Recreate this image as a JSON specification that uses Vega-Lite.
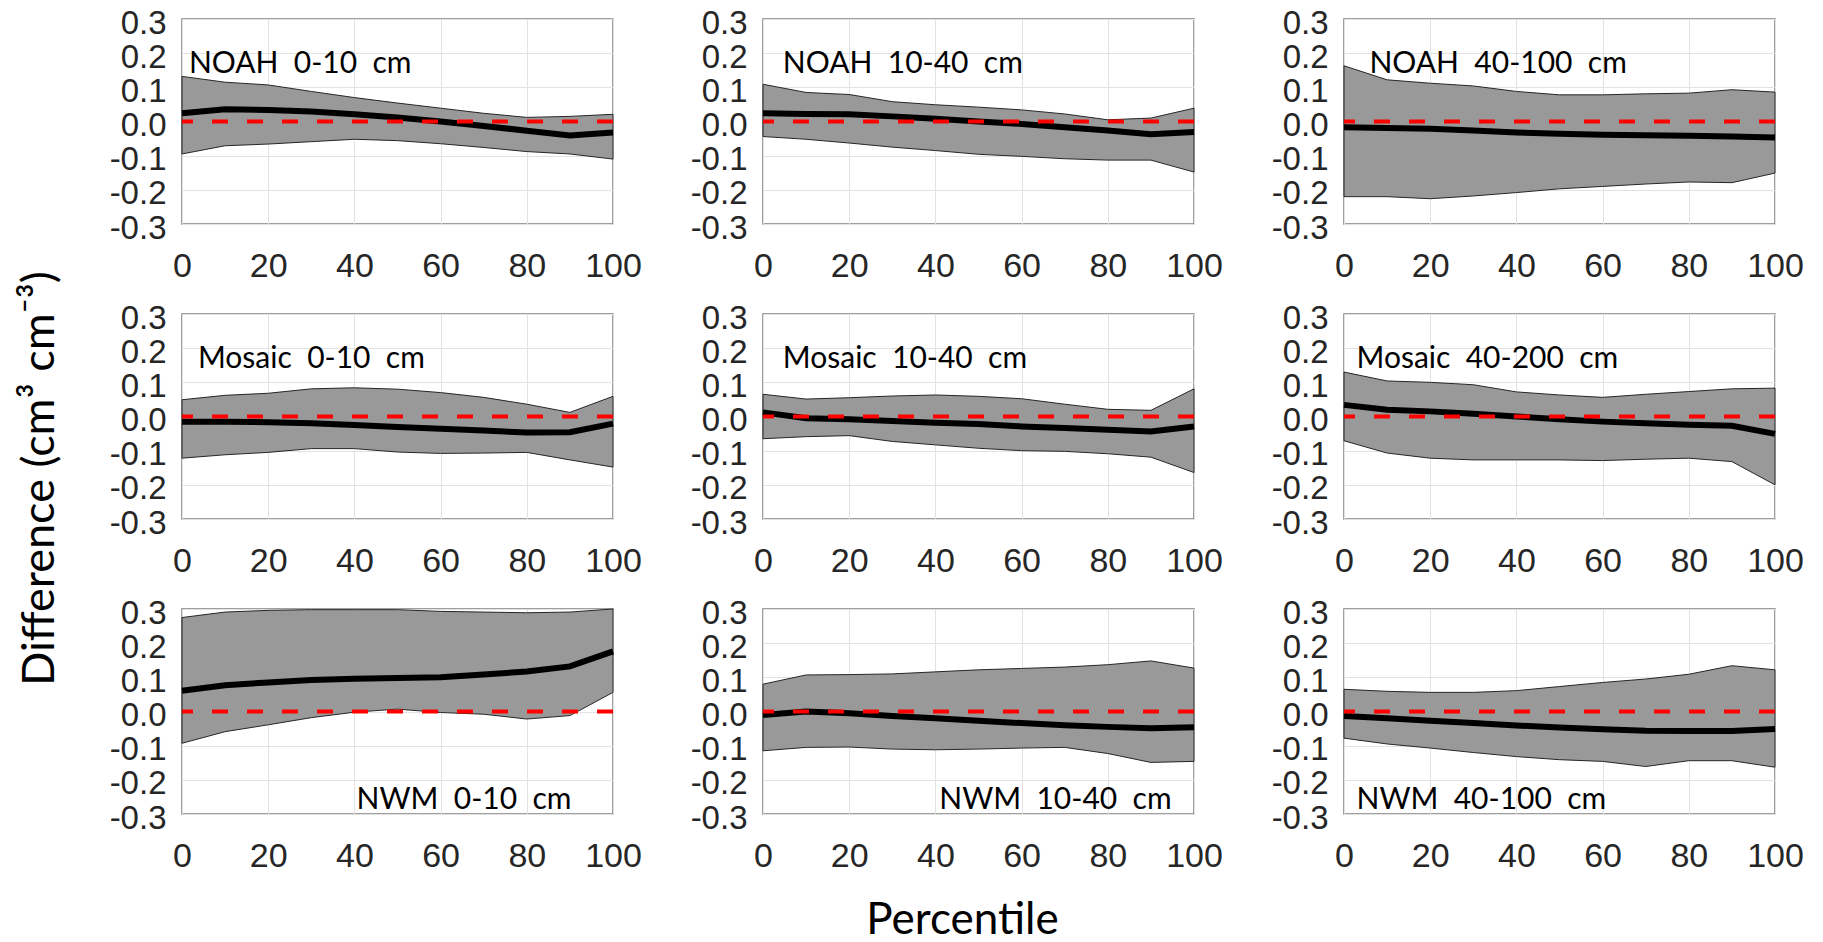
{
  "$schema": "https://vega.github.io/schema/vega-lite/v6.json",
  "autosize": {"type": "none"},
  "padding": {"left": 182, "top": 19, "right": 1641, "bottom": 923},
  "background": "#ffffff",
  "datasets": {
    "bands": [
      {"panel":"N1","p":0,"hi":0.132,"mean":0.024,"lo":-0.095},
      {"panel":"N1","p":10,"hi":0.115,"mean":0.036,"lo":-0.071},
      {"panel":"N1","p":20,"hi":0.107,"mean":0.034,"lo":-0.066},
      {"panel":"N1","p":30,"hi":0.088,"mean":0.029,"lo":-0.059},
      {"panel":"N1","p":40,"hi":0.070,"mean":0.021,"lo":-0.052},
      {"panel":"N1","p":50,"hi":0.054,"mean":0.012,"lo":-0.056},
      {"panel":"N1","p":60,"hi":0.039,"mean":0.000,"lo":-0.065},
      {"panel":"N1","p":70,"hi":0.024,"mean":-0.013,"lo":-0.076},
      {"panel":"N1","p":80,"hi":0.012,"mean":-0.027,"lo":-0.088},
      {"panel":"N1","p":90,"hi":0.015,"mean":-0.041,"lo":-0.095},
      {"panel":"N1","p":100,"hi":0.021,"mean":-0.032,"lo":-0.110},
      {"panel":"N2","p":0,"hi":0.109,"mean":0.024,"lo":-0.044},
      {"panel":"N2","p":10,"hi":0.085,"mean":0.022,"lo":-0.052},
      {"panel":"N2","p":20,"hi":0.079,"mean":0.021,"lo":-0.063},
      {"panel":"N2","p":30,"hi":0.058,"mean":0.015,"lo":-0.075},
      {"panel":"N2","p":40,"hi":0.049,"mean":0.008,"lo":-0.085},
      {"panel":"N2","p":50,"hi":0.042,"mean":0.000,"lo":-0.096},
      {"panel":"N2","p":60,"hi":0.034,"mean":-0.007,"lo":-0.102},
      {"panel":"N2","p":70,"hi":0.022,"mean":-0.017,"lo":-0.109},
      {"panel":"N2","p":80,"hi":0.005,"mean":-0.026,"lo":-0.113},
      {"panel":"N2","p":90,"hi":0.010,"mean":-0.037,"lo":-0.113},
      {"panel":"N2","p":100,"hi":0.039,"mean":-0.031,"lo":-0.148},
      {"panel":"N3","p":0,"hi":0.163,"mean":-0.017,"lo":-0.220},
      {"panel":"N3","p":10,"hi":0.122,"mean":-0.019,"lo":-0.220},
      {"panel":"N3","p":20,"hi":0.112,"mean":-0.021,"lo":-0.226},
      {"panel":"N3","p":30,"hi":0.104,"mean":-0.026,"lo":-0.218},
      {"panel":"N3","p":40,"hi":0.088,"mean":-0.032,"lo":-0.208},
      {"panel":"N3","p":50,"hi":0.078,"mean":-0.036,"lo":-0.197},
      {"panel":"N3","p":60,"hi":0.078,"mean":-0.039,"lo":-0.190},
      {"panel":"N3","p":70,"hi":0.081,"mean":-0.040,"lo":-0.183},
      {"panel":"N3","p":80,"hi":0.083,"mean":-0.042,"lo":-0.177},
      {"panel":"N3","p":90,"hi":0.093,"mean":-0.044,"lo":-0.179},
      {"panel":"N3","p":100,"hi":0.086,"mean":-0.047,"lo":-0.151},
      {"panel":"M1","p":0,"hi":0.049,"mean":-0.015,"lo":-0.122},
      {"panel":"M1","p":10,"hi":0.062,"mean":-0.015,"lo":-0.112},
      {"panel":"M1","p":20,"hi":0.068,"mean":-0.017,"lo":-0.105},
      {"panel":"M1","p":30,"hi":0.081,"mean":-0.020,"lo":-0.094},
      {"panel":"M1","p":40,"hi":0.084,"mean":-0.025,"lo":-0.094},
      {"panel":"M1","p":50,"hi":0.080,"mean":-0.031,"lo":-0.104},
      {"panel":"M1","p":60,"hi":0.070,"mean":-0.036,"lo":-0.108},
      {"panel":"M1","p":70,"hi":0.056,"mean":-0.041,"lo":-0.107},
      {"panel":"M1","p":80,"hi":0.036,"mean":-0.047,"lo":-0.105},
      {"panel":"M1","p":90,"hi":0.012,"mean":-0.046,"lo":-0.127},
      {"panel":"M1","p":100,"hi":0.059,"mean":-0.021,"lo":-0.148},
      {"panel":"M2","p":0,"hi":0.065,"mean":0.012,"lo":-0.065},
      {"panel":"M2","p":10,"hi":0.051,"mean":-0.005,"lo":-0.059},
      {"panel":"M2","p":20,"hi":0.055,"mean":-0.008,"lo":-0.056},
      {"panel":"M2","p":30,"hi":0.060,"mean":-0.013,"lo":-0.073},
      {"panel":"M2","p":40,"hi":0.063,"mean":-0.018,"lo":-0.083},
      {"panel":"M2","p":50,"hi":0.059,"mean":-0.022,"lo":-0.093},
      {"panel":"M2","p":60,"hi":0.052,"mean":-0.029,"lo":-0.100},
      {"panel":"M2","p":70,"hi":0.036,"mean":-0.034,"lo":-0.102},
      {"panel":"M2","p":80,"hi":0.021,"mean":-0.039,"lo":-0.109},
      {"panel":"M2","p":90,"hi":0.018,"mean":-0.044,"lo":-0.119},
      {"panel":"M2","p":100,"hi":0.081,"mean":-0.029,"lo":-0.164},
      {"panel":"M3","p":0,"hi":0.130,"mean":0.034,"lo":-0.071},
      {"panel":"M3","p":10,"hi":0.104,"mean":0.020,"lo":-0.107},
      {"panel":"M3","p":20,"hi":0.100,"mean":0.015,"lo":-0.122},
      {"panel":"M3","p":30,"hi":0.093,"mean":0.008,"lo":-0.127},
      {"panel":"M3","p":40,"hi":0.072,"mean":0.000,"lo":-0.127},
      {"panel":"M3","p":50,"hi":0.063,"mean":-0.008,"lo":-0.127},
      {"panel":"M3","p":60,"hi":0.056,"mean":-0.015,"lo":-0.129},
      {"panel":"M3","p":70,"hi":0.065,"mean":-0.020,"lo":-0.125},
      {"panel":"M3","p":80,"hi":0.073,"mean":-0.024,"lo":-0.122},
      {"panel":"M3","p":90,"hi":0.081,"mean":-0.027,"lo":-0.132},
      {"panel":"M3","p":100,"hi":0.083,"mean":-0.051,"lo":-0.200},
      {"panel":"W1","p":0,"hi":0.275,"mean":0.061,"lo":-0.093},
      {"panel":"W1","p":10,"hi":0.291,"mean":0.077,"lo":-0.059},
      {"panel":"W1","p":20,"hi":0.296,"mean":0.085,"lo":-0.039},
      {"panel":"W1","p":30,"hi":0.298,"mean":0.092,"lo":-0.018},
      {"panel":"W1","p":40,"hi":0.298,"mean":0.096,"lo":-0.002},
      {"panel":"W1","p":50,"hi":0.298,"mean":0.098,"lo":0.007},
      {"panel":"W1","p":60,"hi":0.293,"mean":0.100,"lo":-0.003},
      {"panel":"W1","p":70,"hi":0.291,"mean":0.108,"lo":-0.008},
      {"panel":"W1","p":80,"hi":0.289,"mean":0.117,"lo":-0.022},
      {"panel":"W1","p":90,"hi":0.291,"mean":0.132,"lo":-0.012},
      {"panel":"W1","p":100,"hi":0.300,"mean":0.176,"lo":0.056},
      {"panel":"W2","p":0,"hi":0.080,"mean":-0.010,"lo":-0.115},
      {"panel":"W2","p":10,"hi":0.107,"mean":0.000,"lo":-0.105},
      {"panel":"W2","p":20,"hi":0.108,"mean":-0.005,"lo":-0.104},
      {"panel":"W2","p":30,"hi":0.110,"mean":-0.013,"lo":-0.110},
      {"panel":"W2","p":40,"hi":0.116,"mean":-0.020,"lo":-0.112},
      {"panel":"W2","p":50,"hi":0.122,"mean":-0.027,"lo":-0.110},
      {"panel":"W2","p":60,"hi":0.126,"mean":-0.034,"lo":-0.107},
      {"panel":"W2","p":70,"hi":0.130,"mean":-0.040,"lo":-0.105},
      {"panel":"W2","p":80,"hi":0.137,"mean":-0.045,"lo":-0.123},
      {"panel":"W2","p":90,"hi":0.148,"mean":-0.049,"lo":-0.149},
      {"panel":"W2","p":100,"hi":0.127,"mean":-0.046,"lo":-0.146},
      {"panel":"W3","p":0,"hi":0.065,"mean":-0.013,"lo":-0.078},
      {"panel":"W3","p":10,"hi":0.059,"mean":-0.020,"lo":-0.095},
      {"panel":"W3","p":20,"hi":0.056,"mean":-0.027,"lo":-0.107},
      {"panel":"W3","p":30,"hi":0.056,"mean":-0.034,"lo":-0.120},
      {"panel":"W3","p":40,"hi":0.061,"mean":-0.041,"lo":-0.132},
      {"panel":"W3","p":50,"hi":0.073,"mean":-0.047,"lo":-0.141},
      {"panel":"W3","p":60,"hi":0.085,"mean":-0.052,"lo":-0.146},
      {"panel":"W3","p":70,"hi":0.095,"mean":-0.056,"lo":-0.161},
      {"panel":"W3","p":80,"hi":0.109,"mean":-0.057,"lo":-0.144},
      {"panel":"W3","p":90,"hi":0.134,"mean":-0.057,"lo":-0.144},
      {"panel":"W3","p":100,"hi":0.122,"mean":-0.051,"lo":-0.163}
    ],
    "labels": [
      {"panel":"N1","label":"NOAH\u00a0\u00a00-10\u00a0\u00a0cm","lx":1.6,"ly":0.142},
      {"panel":"N2","label":"NOAH\u00a0\u00a010-40\u00a0\u00a0cm","lx":4.6,"ly":0.142},
      {"panel":"N3","label":"NOAH\u00a0\u00a040-100\u00a0\u00a0cm","lx":5.9,"ly":0.142},
      {"panel":"M1","label":"Mosaic\u00a0\u00a00-10\u00a0\u00a0cm","lx":3.7,"ly":0.142},
      {"panel":"M2","label":"Mosaic\u00a0\u00a010-40\u00a0\u00a0cm","lx":4.6,"ly":0.142},
      {"panel":"M3","label":"Mosaic\u00a0\u00a040-200\u00a0\u00a0cm","lx":2.9,"ly":0.142},
      {"panel":"W1","label":"NWM\u00a0\u00a00-10\u00a0\u00a0cm","lx":40.5,"ly":-0.286},
      {"panel":"W2","label":"NWM\u00a0\u00a010-40\u00a0\u00a0cm","lx":40.9,"ly":-0.286},
      {"panel":"W3","label":"NWM\u00a0\u00a040-100\u00a0\u00a0cm","lx":2.9,"ly":-0.286}
    ]
  },
  "columns": 3,
  "spacing": {"row": 90, "column": 150},
  "bounds": "flush",
  "concat": [
    {"data": {"name": "bands"}, "transform": [{"filter": "datum.panel === 'N1'"}], "layer": [
      {"mark": {"type": "area", "fill": "#999999", "stroke": "#262626", "strokeWidth": 1},
       "encoding": {"x": {"field": "p", "type": "quantitative", "scale": {"domain": [0, 100], "nice": false}, "axis": {"values": [0,20,40,60,80,100], "title": null}},
                    "y": {"field": "hi", "type": "quantitative", "scale": {"domain": [-0.3, 0.3], "nice": false}, "axis": {"title": null, "format": ".1f", "tickCount": 6}},
                    "y2": {"field": "lo"}}},
      {"mark": {"type": "line", "stroke": "#000000", "strokeWidth": 6}, "encoding": {"x": {"field": "p", "type": "quantitative"}, "y": {"field": "mean", "type": "quantitative"}}},
      {"data": {"name": "labels"}, "transform": [{"filter": "datum.panel === 'N1'"}], "mark": {"type": "rule", "stroke": "#ff0000", "strokeWidth": 4, "strokeDash": [16, 19]}, "encoding": {"y": {"datum": 0, "type": "quantitative"}}},
      {"data": {"name": "labels"}, "transform": [{"filter": "datum.panel === 'N1'"}], "mark": {"type": "text", "font": "Lato", "fontSize": 30, "align": "left", "baseline": "alphabetic", "color": "#000000"}, "encoding": {"x": {"field": "lx", "type": "quantitative"}, "y": {"field": "ly", "type": "quantitative"}, "text": {"field": "label"}}}
    ]},
    {"data": {"name": "bands"}, "transform": [{"filter": "datum.panel === 'N2'"}], "layer": [
      {"mark": {"type": "area", "fill": "#999999", "stroke": "#262626", "strokeWidth": 1},
       "encoding": {"x": {"field": "p", "type": "quantitative", "scale": {"domain": [0, 100], "nice": false}, "axis": {"values": [0,20,40,60,80,100], "title": null}},
                    "y": {"field": "hi", "type": "quantitative", "scale": {"domain": [-0.3, 0.3], "nice": false}, "axis": {"title": null, "format": ".1f", "tickCount": 6}},
                    "y2": {"field": "lo"}}},
      {"mark": {"type": "line", "stroke": "#000000", "strokeWidth": 6}, "encoding": {"x": {"field": "p", "type": "quantitative"}, "y": {"field": "mean", "type": "quantitative"}}},
      {"data": {"name": "labels"}, "transform": [{"filter": "datum.panel === 'N2'"}], "mark": {"type": "rule", "stroke": "#ff0000", "strokeWidth": 4, "strokeDash": [16, 19]}, "encoding": {"y": {"datum": 0, "type": "quantitative"}}},
      {"data": {"name": "labels"}, "transform": [{"filter": "datum.panel === 'N2'"}], "mark": {"type": "text", "font": "Lato", "fontSize": 30, "align": "left", "baseline": "alphabetic", "color": "#000000"}, "encoding": {"x": {"field": "lx", "type": "quantitative"}, "y": {"field": "ly", "type": "quantitative"}, "text": {"field": "label"}}}
    ]},
    {"data": {"name": "bands"}, "transform": [{"filter": "datum.panel === 'N3'"}], "layer": [
      {"mark": {"type": "area", "fill": "#999999", "stroke": "#262626", "strokeWidth": 1},
       "encoding": {"x": {"field": "p", "type": "quantitative", "scale": {"domain": [0, 100], "nice": false}, "axis": {"values": [0,20,40,60,80,100], "title": null}},
                    "y": {"field": "hi", "type": "quantitative", "scale": {"domain": [-0.3, 0.3], "nice": false}, "axis": {"title": null, "format": ".1f", "tickCount": 6}},
                    "y2": {"field": "lo"}}},
      {"mark": {"type": "line", "stroke": "#000000", "strokeWidth": 6}, "encoding": {"x": {"field": "p", "type": "quantitative"}, "y": {"field": "mean", "type": "quantitative"}}},
      {"data": {"name": "labels"}, "transform": [{"filter": "datum.panel === 'N3'"}], "mark": {"type": "rule", "stroke": "#ff0000", "strokeWidth": 4, "strokeDash": [16, 19]}, "encoding": {"y": {"datum": 0, "type": "quantitative"}}},
      {"data": {"name": "labels"}, "transform": [{"filter": "datum.panel === 'N3'"}], "mark": {"type": "text", "font": "Lato", "fontSize": 30, "align": "left", "baseline": "alphabetic", "color": "#000000"}, "encoding": {"x": {"field": "lx", "type": "quantitative"}, "y": {"field": "ly", "type": "quantitative"}, "text": {"field": "label"}}}
    ]},
    {"data": {"name": "bands"}, "transform": [{"filter": "datum.panel === 'M1'"}], "layer": [
      {"mark": {"type": "area", "fill": "#999999", "stroke": "#262626", "strokeWidth": 1},
       "encoding": {"x": {"field": "p", "type": "quantitative", "scale": {"domain": [0, 100], "nice": false}, "axis": {"values": [0,20,40,60,80,100], "title": null}},
                    "y": {"field": "hi", "type": "quantitative", "scale": {"domain": [-0.3, 0.3], "nice": false}, "axis": {"format": ".1f", "tickCount": 6, "title": "Difference (cm³ cm⁻³)", "titleX": -129, "titleY": 164, "titleAngle": 270, "titleAlign": "center", "titleBaseline": "alphabetic", "titleFontSize": 45}},
                    "y2": {"field": "lo"}}},
      {"mark": {"type": "line", "stroke": "#000000", "strokeWidth": 6}, "encoding": {"x": {"field": "p", "type": "quantitative"}, "y": {"field": "mean", "type": "quantitative"}}},
      {"data": {"name": "labels"}, "transform": [{"filter": "datum.panel === 'M1'"}], "mark": {"type": "rule", "stroke": "#ff0000", "strokeWidth": 4, "strokeDash": [16, 19]}, "encoding": {"y": {"datum": 0, "type": "quantitative"}}},
      {"data": {"name": "labels"}, "transform": [{"filter": "datum.panel === 'M1'"}], "mark": {"type": "text", "font": "Lato", "fontSize": 30, "align": "left", "baseline": "alphabetic", "color": "#000000"}, "encoding": {"x": {"field": "lx", "type": "quantitative"}, "y": {"field": "ly", "type": "quantitative"}, "text": {"field": "label"}}}
    ]},
    {"data": {"name": "bands"}, "transform": [{"filter": "datum.panel === 'M2'"}], "layer": [
      {"mark": {"type": "area", "fill": "#999999", "stroke": "#262626", "strokeWidth": 1},
       "encoding": {"x": {"field": "p", "type": "quantitative", "scale": {"domain": [0, 100], "nice": false}, "axis": {"values": [0,20,40,60,80,100], "title": null}},
                    "y": {"field": "hi", "type": "quantitative", "scale": {"domain": [-0.3, 0.3], "nice": false}, "axis": {"title": null, "format": ".1f", "tickCount": 6}},
                    "y2": {"field": "lo"}}},
      {"mark": {"type": "line", "stroke": "#000000", "strokeWidth": 6}, "encoding": {"x": {"field": "p", "type": "quantitative"}, "y": {"field": "mean", "type": "quantitative"}}},
      {"data": {"name": "labels"}, "transform": [{"filter": "datum.panel === 'M2'"}], "mark": {"type": "rule", "stroke": "#ff0000", "strokeWidth": 4, "strokeDash": [16, 19]}, "encoding": {"y": {"datum": 0, "type": "quantitative"}}},
      {"data": {"name": "labels"}, "transform": [{"filter": "datum.panel === 'M2'"}], "mark": {"type": "text", "font": "Lato", "fontSize": 30, "align": "left", "baseline": "alphabetic", "color": "#000000"}, "encoding": {"x": {"field": "lx", "type": "quantitative"}, "y": {"field": "ly", "type": "quantitative"}, "text": {"field": "label"}}}
    ]},
    {"data": {"name": "bands"}, "transform": [{"filter": "datum.panel === 'M3'"}], "layer": [
      {"mark": {"type": "area", "fill": "#999999", "stroke": "#262626", "strokeWidth": 1},
       "encoding": {"x": {"field": "p", "type": "quantitative", "scale": {"domain": [0, 100], "nice": false}, "axis": {"values": [0,20,40,60,80,100], "title": null}},
                    "y": {"field": "hi", "type": "quantitative", "scale": {"domain": [-0.3, 0.3], "nice": false}, "axis": {"title": null, "format": ".1f", "tickCount": 6}},
                    "y2": {"field": "lo"}}},
      {"mark": {"type": "line", "stroke": "#000000", "strokeWidth": 6}, "encoding": {"x": {"field": "p", "type": "quantitative"}, "y": {"field": "mean", "type": "quantitative"}}},
      {"data": {"name": "labels"}, "transform": [{"filter": "datum.panel === 'M3'"}], "mark": {"type": "rule", "stroke": "#ff0000", "strokeWidth": 4, "strokeDash": [16, 19]}, "encoding": {"y": {"datum": 0, "type": "quantitative"}}},
      {"data": {"name": "labels"}, "transform": [{"filter": "datum.panel === 'M3'"}], "mark": {"type": "text", "font": "Lato", "fontSize": 30, "align": "left", "baseline": "alphabetic", "color": "#000000"}, "encoding": {"x": {"field": "lx", "type": "quantitative"}, "y": {"field": "ly", "type": "quantitative"}, "text": {"field": "label"}}}
    ]},
    {"data": {"name": "bands"}, "transform": [{"filter": "datum.panel === 'W1'"}], "layer": [
      {"mark": {"type": "area", "fill": "#999999", "stroke": "#262626", "strokeWidth": 1},
       "encoding": {"x": {"field": "p", "type": "quantitative", "scale": {"domain": [0, 100], "nice": false}, "axis": {"values": [0,20,40,60,80,100], "title": null}},
                    "y": {"field": "hi", "type": "quantitative", "scale": {"domain": [-0.3, 0.3], "nice": false}, "axis": {"title": null, "format": ".1f", "tickCount": 6}},
                    "y2": {"field": "lo"}}},
      {"mark": {"type": "line", "stroke": "#000000", "strokeWidth": 6}, "encoding": {"x": {"field": "p", "type": "quantitative"}, "y": {"field": "mean", "type": "quantitative"}}},
      {"data": {"name": "labels"}, "transform": [{"filter": "datum.panel === 'W1'"}], "mark": {"type": "rule", "stroke": "#ff0000", "strokeWidth": 4, "strokeDash": [16, 19]}, "encoding": {"y": {"datum": 0, "type": "quantitative"}}},
      {"data": {"name": "labels"}, "transform": [{"filter": "datum.panel === 'W1'"}], "mark": {"type": "text", "font": "Lato", "fontSize": 30, "align": "left", "baseline": "alphabetic", "color": "#000000"}, "encoding": {"x": {"field": "lx", "type": "quantitative"}, "y": {"field": "ly", "type": "quantitative"}, "text": {"field": "label"}}}
    ]},
    {"data": {"name": "bands"}, "transform": [{"filter": "datum.panel === 'W2'"}], "layer": [
      {"mark": {"type": "area", "fill": "#999999", "stroke": "#262626", "strokeWidth": 1},
       "encoding": {"x": {"field": "p", "type": "quantitative", "scale": {"domain": [0, 100], "nice": false}, "axis": {"values": [0,20,40,60,80,100], "title": "Percentile", "titleX": 199, "titleY": 119, "titleAlign": "center", "titleBaseline": "alphabetic", "titleFontSize": 44}},
                    "y": {"field": "hi", "type": "quantitative", "scale": {"domain": [-0.3, 0.3], "nice": false}, "axis": {"title": null, "format": ".1f", "tickCount": 6}},
                    "y2": {"field": "lo"}}},
      {"mark": {"type": "line", "stroke": "#000000", "strokeWidth": 6}, "encoding": {"x": {"field": "p", "type": "quantitative"}, "y": {"field": "mean", "type": "quantitative"}}},
      {"data": {"name": "labels"}, "transform": [{"filter": "datum.panel === 'W2'"}], "mark": {"type": "rule", "stroke": "#ff0000", "strokeWidth": 4, "strokeDash": [16, 19]}, "encoding": {"y": {"datum": 0, "type": "quantitative"}}},
      {"data": {"name": "labels"}, "transform": [{"filter": "datum.panel === 'W2'"}], "mark": {"type": "text", "font": "Lato", "fontSize": 30, "align": "left", "baseline": "alphabetic", "color": "#000000"}, "encoding": {"x": {"field": "lx", "type": "quantitative"}, "y": {"field": "ly", "type": "quantitative"}, "text": {"field": "label"}}}
    ]},
    {"data": {"name": "bands"}, "transform": [{"filter": "datum.panel === 'W3'"}], "layer": [
      {"mark": {"type": "area", "fill": "#999999", "stroke": "#262626", "strokeWidth": 1},
       "encoding": {"x": {"field": "p", "type": "quantitative", "scale": {"domain": [0, 100], "nice": false}, "axis": {"values": [0,20,40,60,80,100], "title": null}},
                    "y": {"field": "hi", "type": "quantitative", "scale": {"domain": [-0.3, 0.3], "nice": false}, "axis": {"title": null, "format": ".1f", "tickCount": 6}},
                    "y2": {"field": "lo"}}},
      {"mark": {"type": "line", "stroke": "#000000", "strokeWidth": 6}, "encoding": {"x": {"field": "p", "type": "quantitative"}, "y": {"field": "mean", "type": "quantitative"}}},
      {"data": {"name": "labels"}, "transform": [{"filter": "datum.panel === 'W3'"}], "mark": {"type": "rule", "stroke": "#ff0000", "strokeWidth": 4, "strokeDash": [16, 19]}, "encoding": {"y": {"datum": 0, "type": "quantitative"}}},
      {"data": {"name": "labels"}, "transform": [{"filter": "datum.panel === 'W3'"}], "mark": {"type": "text", "font": "Lato", "fontSize": 30, "align": "left", "baseline": "alphabetic", "color": "#000000"}, "encoding": {"x": {"field": "lx", "type": "quantitative"}, "y": {"field": "ly", "type": "quantitative"}, "text": {"field": "label"}}}
    ]}
  ],
  "config": {
    "locale": {"number": {"decimal": ".", "thousands": ",", "grouping": [3], "currency": ["$", ""], "minus": "-"}},
    "view": {"continuousWidth": 431, "continuousHeight": 205, "stroke": "#808080", "strokeWidth": 1.5, "fill": "#ffffff"},
    "axis": {"grid": true, "gridColor": "#e2e2e2", "gridWidth": 1, "ticks": false, "domain": false, "labelColor": "#262626", "labelFont": "Liberation Sans", "labelFlush": false, "labelOverlap": false, "labelBound": false, "titleFont": "Lato", "titleFontWeight": "normal", "titleColor": "#000000"},
    "axisX": {"labelFontSize": 34, "labelPadding": 25},
    "axisY": {"labelFontSize": 33, "labelPadding": 16, "labelOffset": 4}
  }
}
